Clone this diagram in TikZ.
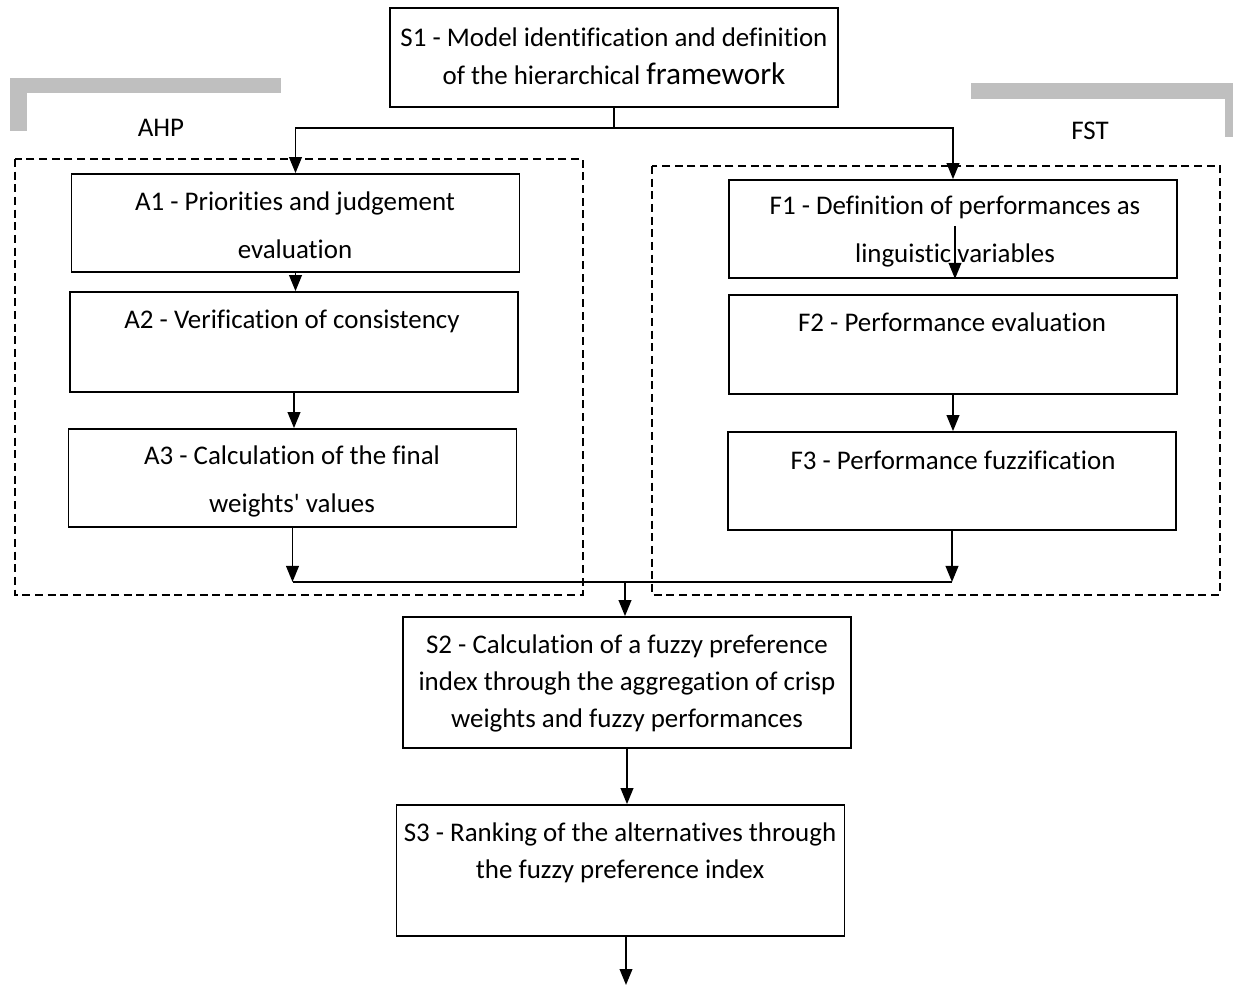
\documentclass[tikz,border=0pt]{standalone}
\usepackage{fontspec}
\setmainfont{Carlito}[Ligatures={NoCommon}]
\usetikzlibrary{arrows.meta}
\begin{document}
\begin{tikzpicture}[x=0.75pt,y=-0.75pt,
  box/.style={draw,line width=1.3pt,minimum width=336pt,minimum height=73.5pt,inner sep=0pt},
  tallbox/.style={box,minimum height=98.25pt},
  txt/.style={align=center,inner sep=0pt,font=\fontsize{20.2}{36}\selectfont},
  txtb/.style={txt,font=\fontsize{20.2}{28.5}\selectfont},
  line/.style={line width=1.3pt},
  arr/.style={line,-{Triangle[length=12pt,width=9.5pt]}},
  dashbox/.style={line width=1.1pt,dash pattern=on 6pt off 3.5pt},
  bar/.style={fill=black!25,draw=none}]
\useasboundingbox (0,0) rectangle (1233,987);
% gray brackets
\fill[bar] (10,78) rectangle (281,93);
\fill[bar] (10,78) rectangle (27,131);
\fill[bar] (971,83) rectangle (1233,99);
\fill[bar] (1225,83) rectangle (1233,137);
\node[txt] (ahp) at (161,128) {AHP};
\node[txt] (fst) at (1090,131) {FST};
% dashed groups
\draw[dashbox] (15,159) rectangle (583,595);
\draw[dashbox] (652,166) rectangle (1220,595);
% boxes
\node[box,minimum height=74.25pt] (s1) at (614,57.5) {};
\node[box] (a1) at (295.5,223) {};
\node[box,minimum height=75pt] (a2) at (294,342) {};
\node[box] (a3) at (292.5,478) {};
\node[box] (f1) at (953,229) {};
\node[box,minimum height=74.25pt] (f2) at (953,344.5) {};
\node[box] (f3) at (952,481) {};
\node[tallbox] (s2) at (627,682.5) {};
\node[tallbox] (s3) at (620.5,870.5) {};
% texts
\node[txtb] (s1t) at (614,56) {S1 - Model identification and definition\\of the hierarchical {\fontsize{23.5}{28.5}\selectfont framework}};
\node[txt] (a1t) at (295,225) {A1 - Priorities and judgement\\evaluation};
\node[txt] (a2t) at (292,321) {A2 - Verification of consistency};
\node[txt] (a3t) at (292,481) {A3 - Calculation of the final\\weights\textquotesingle{} values};
\node[txt] (f1t) at (955,232) {F1 - Definition of performances as\\linguistic variables};
\node[txt] (f2t) at (952,322) {F2 - Performance evaluation};
\node[txt] (f3t) at (953,460) {F3 - Performance fuzzification};
\node[txt,font=\fontsize{20.2}{28}\selectfont] (s2t) at (627,683.5) {S2 - Calculation of a fuzzy preference\\index through the aggregation of crisp\\weights and fuzzy performances};
\node[txt,font=\fontsize{20.2}{28}\selectfont] (s3t) at (620,852.5) {S3 - Ranking of the alternatives through\\the fuzzy preference index};
% connectors
\coordinate (split) at (614,128);
\coordinate (f1in) at (955,226);
\coordinate (merge) at (625,582);
\coordinate (out) at (626,985);
\draw[line] (s1.south) -- (split);
\draw[arr] (split) -| (a1.north);
\draw[arr] (split) -| (f1.north);
\draw[arr] (a1.south) -- (a1.south |- a2.north);
\draw[arr] (a2.south) -- (a2.south |- a3.north);
\draw[arr] (f1in) -- (f1in |- f1.south);
\draw[arr] (f2.south) -- (f2.south |- f3.north);
\draw[arr] (a3.south) -- (a3.south |- merge);
\draw[arr] (f3.south) -- (f3.south |- merge);
\draw[line] (a3.south |- merge) -- (f3.south |- merge);
\draw[arr] (merge) -- (merge |- s2.north);
\draw[arr] (s2.south) -- (s2.south |- s3.north);
\draw[arr] (s3.south -| out) -- (out);
\end{tikzpicture}
\end{document}
